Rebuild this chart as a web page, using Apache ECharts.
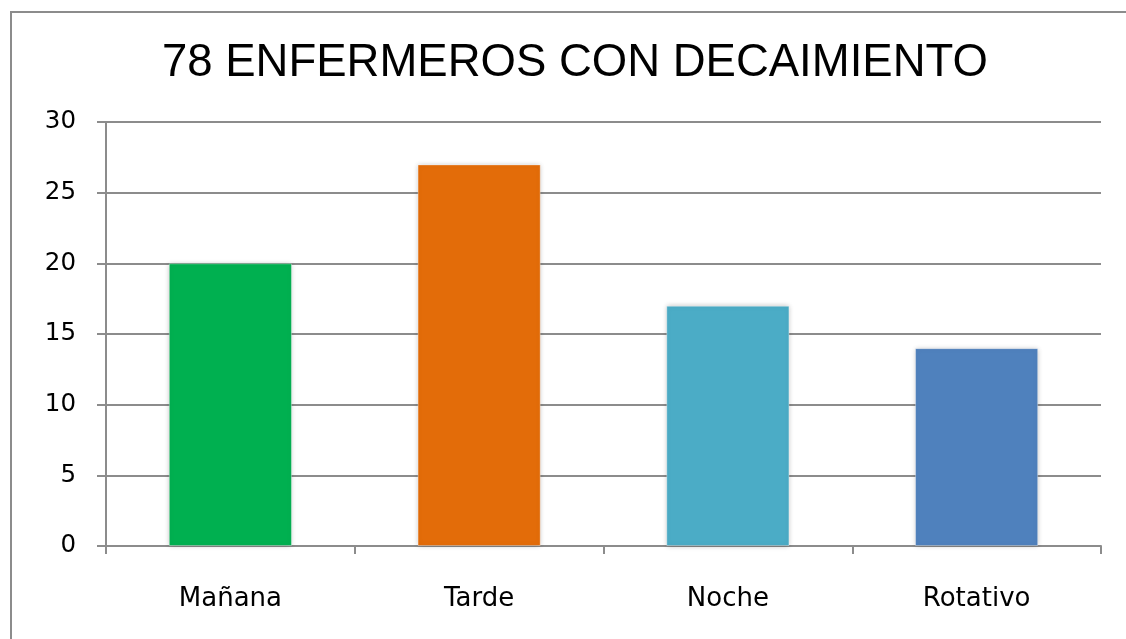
<!DOCTYPE html>
<html>
<head>
<meta charset="utf-8">
<script src="https://cdn.jsdelivr.net/npm/echarts@6/dist/echarts.min.js"></script>
<style>
  html, body { margin: 0; padding: 0; background: #fff; }
  #myChart { width: 1126px; height: 639px; }
</style>
</head>
<body>
<div id="myChart"></div>
<script>
// datos
const titleText = '78 ENFERMEROS CON DECAIMIENTO';
const turnos = ['Mañana', 'Tarde', 'Noche', 'Rotativo'];
const enfermeros = [20, 27, 17, 14];
const colores = ['#00B050', '#E36C09', '#4BACC6', '#4F81BD'];
const yTicks = [0, 5, 10, 15, 20, 25, 30];

const chart = echarts.init(document.getElementById('myChart'));

const options = {
  animation: false,
  backgroundColor: '#fff',
  title: {
    text: titleText,
    left: 162,
    top: 40,
    padding: 0,
    textStyle: {
      fontFamily: 'Liberation Sans',
      fontWeight: 'normal',
      fontSize: 45.5,
      color: '#000'
    }
  },
  graphic: [
    {
      type: 'rect',
      silent: true,
      shape: { x: 11, y: 12, width: 1300, height: 800 },
      style: { fill: 'none', stroke: '#8c8c8c', lineWidth: 2 }
    }
  ],
  grid: {
    left: 106,
    right: 25,
    top: 122,
    bottom: 93
  },
  xAxis: {
    type: 'category',
    data: turnos,
    axisLine: { lineStyle: { color: '#8c8c8c', width: 2 } },
    axisTick: { show: true, alignWithLabel: false, length: 8, lineStyle: { color: '#8c8c8c', width: 2 } },
    axisLabel: {
      margin: 40,
      fontFamily: 'DejaVu Sans',
      fontSize: 26,
      color: '#000'
    }
  },
  yAxis: {
    type: 'value',
    min: yTicks[0],
    max: yTicks[yTicks.length - 1],
    interval: 5,
    axisLine: { show: true, lineStyle: { color: '#8c8c8c', width: 2 } },
    axisTick: { show: true, inside: false, length: 9, lineStyle: { color: '#8c8c8c', width: 2 } },
    splitLine: { show: true, lineStyle: { color: '#8c8c8c', width: 2 } },
    axisLabel: {
      margin: 30,
      fontFamily: 'DejaVu Sans',
      fontSize: 24.5,
      color: '#000'
    }
  },
  series: [
    {
      name: 'Enfermeros',
      type: 'bar',
      barWidth: '49.5%',
      data: enfermeros.map((v, i) => ({
        value: v,
        itemStyle: { color: colores[i] }
      })),
      itemStyle: {
        borderColor: 'rgba(255,255,255,0.35)',
        borderWidth: 1,
        shadowBlur: 5,
        shadowColor: 'rgba(0,0,0,0.25)'
      }
    }
  ]
};

chart.setOption(options);
</script>
</body>
</html>
